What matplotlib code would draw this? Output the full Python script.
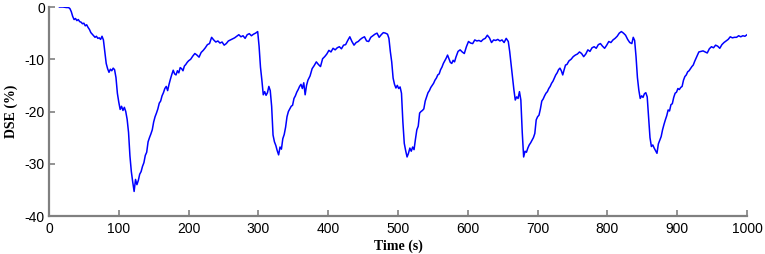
import matplotlib
matplotlib.use("Agg")
import matplotlib.pyplot as plt

plt.rcParams["axes.unicode_minus"] = False

# Time (s) and DSE (%) values
time_s = [
    15, 20, 25, 28, 30, 32, 34, 36, 38, 40, 42, 44, 46, 48, 50, 52, 54, 56, 58, 60, 62, 64, 66, 68, 70, 72, 74, 76, 78,
    80, 82, 84, 86, 88, 90, 92, 94, 96, 98, 100, 102, 104, 106, 108, 110, 112, 114, 116, 118, 120, 122,
    124, 126, 128, 130, 132, 134, 136, 138, 140, 142, 144, 146, 148, 150, 152, 154, 156, 158, 160, 162, 164, 166, 168,
    170, 172, 174, 176, 178, 180, 182, 184, 186, 188, 190, 192, 194, 196, 198, 200, 203, 206, 209, 212, 215, 218, 221,
    224, 227, 230, 233, 236, 239, 242, 245, 248, 251,
    254, 257, 260, 263, 266, 269, 272, 275, 278, 281, 284, 287, 290, 293, 296, 299,
    301, 303, 305, 307, 309, 311, 313, 315, 317, 319, 321, 323, 325, 327, 329, 331, 333, 335, 337,
    339, 341, 343, 345, 347, 349, 351, 353, 355, 357, 359, 361, 363, 365, 367, 369, 371, 374, 377, 380, 383, 386, 389,
    392, 395, 398, 401, 404, 407, 410, 413, 416, 419, 422, 425, 428, 431, 434, 437, 440, 443, 446, 449, 452, 455, 458,
    461, 464, 467, 470, 473, 476, 479, 482, 485,
    487, 489, 491, 493, 495, 497, 499, 501, 503, 505, 507, 509, 511, 513, 515, 517, 519, 521, 523, 525, 527, 529, 531,
    533, 535, 537, 539, 541, 543, 545, 547, 549, 551, 553, 555, 557, 559, 561, 563, 565, 567, 569, 571, 573, 575, 577,
    579, 581, 583, 586, 589, 592, 595, 598, 601, 604, 607, 610, 613, 616, 619, 622, 625, 628, 631, 634, 637, 640, 643,
    646, 649, 652, 655, 658,
    660, 662, 664, 666, 668, 670, 672, 674, 676, 678, 680, 682, 684, 686, 688, 690, 692, 694, 696, 698, 700,
    702, 704, 706, 708, 710, 712, 714, 716, 718, 720, 722, 724, 726, 728, 730, 732, 734, 736, 738, 740, 742, 745, 748,
    751, 754, 757, 760, 763, 766, 769, 772, 775, 778, 781, 784, 787, 790, 793, 796, 799, 802, 805, 808, 811, 814, 817,
    820, 823, 826, 829, 832, 835, 837, 839,
    841, 843, 845, 847, 849, 851, 853, 855, 857, 859, 861, 863, 865, 867, 869, 871, 873, 875, 877,
    879, 881, 883, 885, 887, 889, 891, 893, 895, 897, 899, 901, 903, 905, 907, 909, 911, 913, 915, 917, 919, 921, 923,
    925, 927, 929, 931, 934, 937, 940, 943, 946, 949, 952, 955, 958, 961, 964, 967, 970, 973, 976, 979, 982, 985, 988,
    991, 994, 997, 1000,
]

dse_pct = [
    0, 0, -0.1, -0.1, -0.3, -0.9, -1.8, -2.4, -2.2, -2.6, -2.4, -2.8, -2.9, -3.2, -3.1, -3.6, -3.4, -3.9, -4.3, -4.9,
    -5.2, -5.5, -5.8, -5.6, -6.0, -5.9, -6.2, -5.6, -6.3,
    -8.5, -10.8, -11.8, -12.5, -11.9, -12.2, -11.7, -12.0, -13.5, -16.5, -18.2, -19.6, -19.0, -19.8, -19.2, -20.0,
    -21.5, -24.0, -28.5, -31.5, -33.5, -35.3,
    -33.0, -34.0, -33.2, -32.0, -31.5, -30.5, -29.8, -28.4, -27.8, -25.8, -25.0, -24.3, -23.5, -22.0, -21.0, -20.3,
    -19.5, -18.4, -18.0, -17.0, -16.4, -15.6, -15.2, -16.0, -14.8, -13.8, -12.9, -12.1, -12.8, -13.0, -12.2, -12.6,
    -11.6, -11.8, -12.2, -11.3, -11.0, -10.6, -10.3, -10.0, -9.4, -8.9, -9.2, -9.6, -8.7, -8.3, -7.8, -7.2, -7.0,
    -5.8, -6.3, -6.7, -6.5, -6.9, -6.7, -7.3,
    -7.0, -6.5, -6.3, -6.1, -5.9, -5.6, -5.3, -5.7, -5.5, -6.0, -5.3, -5.1, -5.5, -5.2, -5.0, -4.7,
    -7.5, -11.5, -14.0, -16.8, -16.2, -16.9, -16.4, -15.2, -16.0, -19.0, -24.5, -25.8, -26.5, -27.5, -28.3, -26.8,
    -27.2, -25.2, -24.4,
    -23.0, -21.0, -20.0, -19.5, -19.0, -18.8, -17.5, -17.0, -16.3, -15.8, -15.2, -14.8, -15.6, -14.5, -16.8, -15.0,
    -14.0, -13.2, -11.8, -11.2, -10.5, -11.0, -11.4, -9.9, -9.5, -9.0, -8.3, -8.6, -7.9, -8.2, -7.8, -7.6, -8.0,
    -7.3, -7.2, -6.4, -5.7, -6.6, -7.3, -6.8, -6.6, -6.2, -5.9, -5.7, -6.5, -6.6, -5.8, -5.5, -5.2, -5.0, -5.8, -5.3,
    -4.9, -5.0, -5.2,
    -6.0, -8.5, -10.5, -13.6, -14.8, -15.5, -15.0, -15.6, -15.3, -16.5, -22.0, -26.1, -27.5, -28.7, -28.0, -27.0,
    -27.6, -26.8, -27.3, -25.3, -23.5, -22.8, -20.3,
    -20.0, -19.8, -19.5, -18.0, -17.2, -16.4, -16.0, -15.4, -15.0, -14.6, -14.0, -13.6, -13.0, -12.8, -12.0, -11.5,
    -10.8, -10.3, -9.8, -9.2, -9.9, -10.6, -10.8, -10.2, -10.5, -9.6, -8.5, -8.2, -8.6, -8.9, -7.6, -6.6, -6.9, -7.0,
    -6.3, -6.5, -6.4, -6.6, -6.2, -6.0, -5.4, -5.9, -6.8, -6.3, -6.4, -6.2, -6.5, -6.3, -6.8, -6.0, -6.6,
    -8.5, -11.0, -13.3, -15.8, -17.8, -17.2, -17.5, -16.2, -17.8, -24.0, -28.7, -27.6, -27.8, -27.0, -26.4, -26.0,
    -25.5, -25.0, -24.2, -21.6, -21.0,
    -20.7, -19.5, -18.0, -17.6, -17.0, -16.5, -16.2, -15.6, -15.2, -14.6, -14.2, -13.6, -13.0, -12.6, -12.0, -11.7,
    -12.2, -13.0, -12.0, -11.1, -11.0, -10.3, -10.0, -9.5, -9.2, -9.0, -8.6, -8.9, -9.5, -9.0, -8.2, -8.5, -7.8,
    -7.6, -7.9, -7.2, -7.0, -7.5, -7.9, -7.3, -6.6, -6.8, -6.3, -6.0, -5.6, -5.0, -4.7, -5.0, -5.4, -6.2, -6.8,
    -7.0, -5.8, -6.4,
    -9.5, -13.5, -15.9, -17.5, -17.0, -17.3, -16.6, -16.4, -17.2, -21.0, -25.0, -26.7, -26.4, -27.0, -27.5, -28.0,
    -26.2, -25.5, -24.8,
    -23.5, -22.5, -21.6, -20.8, -19.7, -19.9, -18.7, -18.5, -17.3, -16.5, -16.3, -15.6, -15.8, -15.4, -15.2, -14.0,
    -13.3, -13.0, -12.4, -12.2, -11.8, -11.4, -11.1, -10.4, -9.8, -9.2, -8.6, -8.5, -8.4, -8.6, -8.8, -8.0, -7.6,
    -7.8, -7.3, -7.5, -7.9, -7.2, -6.8, -6.5, -6.2, -5.7, -5.9, -5.8, -5.8, -5.5, -5.7, -5.5, -5.6, -5.3,
]

x_ticks = [0, 100, 200, 300, 400, 500, 600, 700, 800, 900, 1000]
y_ticks = [0, -10, -20, -30, -40]

fig = plt.figure(figsize=(7.65, 2.54), dpi=100)
ax = fig.add_axes([0.064, 0.1496, 0.9125, 0.8228])

ax.plot(time_s, dse_pct, color="#0000ff", linewidth=1.1)

ax.set_xlim(0, 1000)
ax.set_ylim(-40, 0)
ax.set_xticks(x_ticks)
ax.set_yticks(y_ticks)

spine_col = "#808080"
for s in ["top", "right"]:
    ax.spines[s].set_visible(False)
for s in ["left", "bottom"]:
    ax.spines[s].set_color(spine_col)
    ax.spines[s].set_linewidth(1.6)

ax.tick_params(axis="both", direction="in", length=4, width=1.2, color=spine_col,
               labelsize=10, labelcolor="black")
ax.tick_params(axis="x", pad=4.5)
ax.tick_params(axis="y", pad=3)
for lab in ax.get_xticklabels() + ax.get_yticklabels():
    lab.set_family(["Liberation Sans", "DejaVu Sans"])

ax.set_xlabel("Time (s)", family=["Liberation Serif", "DejaVu Serif"], fontweight="bold",
              fontsize=10, labelpad=2)
ax.set_ylabel("DSE (%)", family=["Liberation Serif", "DejaVu Serif"], fontweight="bold",
              fontsize=10, labelpad=5)

fig.savefig("out.png", dpi=100)
